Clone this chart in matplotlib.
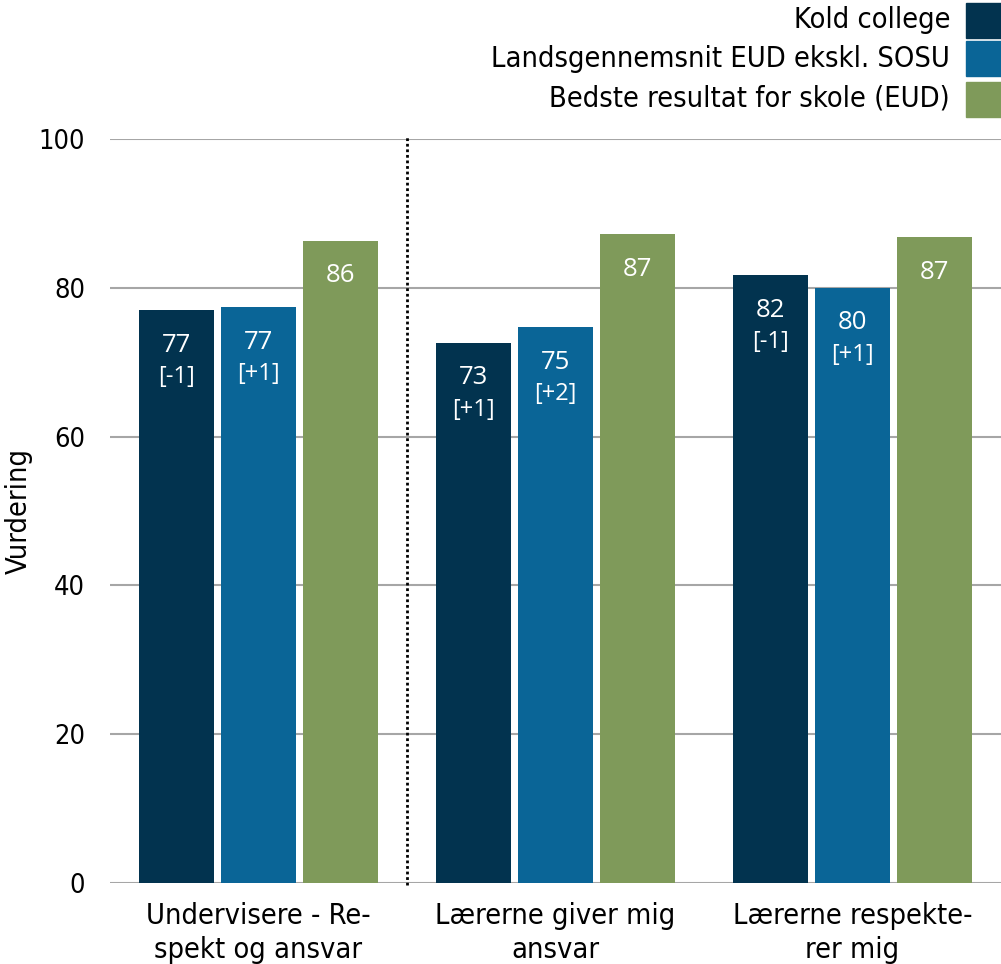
import matplotlib
matplotlib.use("Agg")
import matplotlib.pyplot as plt
from matplotlib.patches import Rectangle
import numpy as np

categories = ["Undervisere - Re-\nspekt og ansvar", "Lærerne giver mig\nansvar", "Lærerne respekte-\nrer mig"]
series_names = ["Kold college", "Landsgennemsnit EUD ekskl. SOSU", "Bedste resultat for skole (EUD)"]
kold = [77.0, 72.6, 81.7]
lands = [77.4, 74.7, 80.0]
best = [86.3, 87.2, 86.8]
kold_labels = ["77", "73", "82"]
lands_labels = ["77", "75", "80"]
best_labels = ["86", "87", "87"]
kold_change = ["[-1]", "[+1]", "[-1]"]
lands_change = ["[+1]", "[+2]", "[+1]"]
yticks = [0, 20, 40, 60, 80, 100]

colors = ["#02334f", "#0a6597", "#7f9a5a"]

plt.rcParams['font.family'] = ['DejaVu Sans']
plt.rcParams['font.stretch'] = 'condensed'
W, H = 1001, 964
fig = plt.figure(figsize=(W/100, H/100), dpi=100)
ax = fig.add_axes([110/W, 1-883/H, 891/W, 744/H])

FS = 20.8
x = np.arange(len(categories))
bw = 75/297
step = 82/297
series = [kold, lands, best]
labels = [kold_labels, lands_labels, best_labels]
changes = [kold_change, lands_change, None]
px = 100/744  # data units per pixel
for i, (vals, c) in enumerate(zip(series, colors)):
    xs = x + (i-1)*step
    ax.bar(xs, vals, width=bw, color=c, zorder=3)
    for j, v in enumerate(vals):
        ax.text(xs[j], v - 35*px, labels[i][j], ha='center', va='center', color='white',
                fontsize=18.5, family='Open Sans', fontstretch='normal', zorder=4)
        if changes[i] is not None:
            ax.text(xs[j], v - 67*px, changes[i][j], ha='center', va='center', color='white',
                    fontsize=17, family='Open Sans', fontstretch='normal', zorder=4)

ax.set_xlim(-0.5, 2.5)
ax.set_ylim(0, 100)
ax.set_yticks(yticks)
ax.set_yticklabels([str(t) for t in yticks], fontsize=19.5)
ax.set_xticks(x)
ax.set_xticklabels(categories, fontsize=FS, linespacing=1.24)
ax.tick_params(length=0)
ax.tick_params(axis='y', pad=18)
ax.tick_params(axis='x', pad=14)
for s in ax.spines.values():
    s.set_visible(False)
ax.grid(axis='y', color='#a6a6a6', lw=1.5, zorder=0)
ax.set_axisbelow(True)
ax.axvline(0.5, ymin=-0.003, ymax=1.006, color='black', ls=(0, (1, 1)), lw=2, clip_on=False, zorder=5)
fig.text(19/W, 1-511/H, "Vurdering", rotation=90, ha='center', va='center', fontsize=FS)

# legend (manual)
ycs = [20, 59, 99]
for name, c, yc in zip(series_names, colors, ycs):
    fig.text(950/W, 1-yc/H, name, ha='right', va='center', fontsize=FS)
    fig.patches.append(Rectangle((966/W, 1-(yc+17.5)/H), 35/W, 35/H, transform=fig.transFigure,
                                 color=c, figure=fig))

fig.savefig("out.png", dpi=100)
